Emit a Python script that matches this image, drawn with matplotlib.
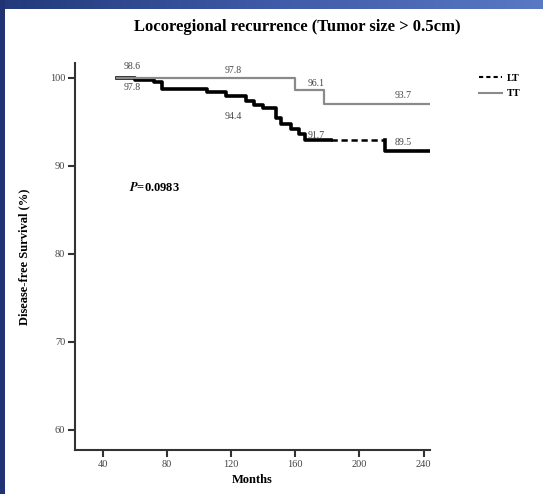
import matplotlib.pyplot as plt
import numpy as np
from matplotlib.lines import Line2D
from matplotlib.colors import LinearSegmentedColormap

plt.rcParams['font.family'] = ['Liberation Serif', 'DejaVu Serif']
plt.rcParams['mathtext.fontset'] = 'stix'

# Kaplan-Meier step data (months, disease-free survival %)
tt_months = [49, 160, 178, 244]
tt_surv = [100.0, 98.6, 97.05, 97.05]

lt_months = [49, 60, 72, 77, 105, 117, 129, 134, 140, 148, 151, 157, 162, 166, 216, 245]
lt_surv = [100.0, 99.8, 99.5, 98.8, 98.4, 97.9, 97.4, 96.9, 96.6, 95.5, 94.8, 94.2, 93.6, 92.9, 91.7, 91.7]
lt_dashed_span = (182, 216)

# rate annotations written on the curves
ann_text = ['98.6', '97.8', '97.8', '96.1', '93.7', '94.4', '91.7', '89.5']
ann_x = [58, 58, 121, 173, 227, 121, 173, 227]
ann_y = [101.25, 98.9, 100.9, 99.4, 98.0, 95.6, 93.5, 92.7]

x_ticks = [40, 80, 120, 160, 200, 240]
y_ticks = [60, 70, 80, 90, 100]

fig = plt.figure(figsize=(5.43, 4.94), dpi=100, facecolor='white')

# slide frame: gradient band on top, dark strip on the left
bg = fig.add_axes([0, 0, 1, 1], zorder=-10)
bg.set_xlim(0, 1)
bg.set_ylim(0, 1)
bg.axis('off')
grad = np.linspace(0, 1, 256).reshape(1, -1)
band = LinearSegmentedColormap.from_list('band', ['#223a7a', '#3f5aa8', '#5a78c4'])
bg.imshow(grad, cmap=band, extent=[0, 1, 1 - 9 / 494, 1], aspect='auto')
bg.add_patch(plt.Rectangle((0, 0), 5 / 543, 1, color='#1e3274', lw=0))

ax = fig.add_axes([75 / 543, 1 - 450 / 494, 355 / 543, 387 / 494])
ax.set_facecolor('none')

ax.step(tt_months, tt_surv, where='post', color='#8a8a8a', lw=1.6, zorder=3)

# LT curve: solid except for one dashed stretch
t = np.array(lt_months, dtype=float)
s = np.array(lt_surv)
a, b = lt_dashed_span
level_a = s[t <= a][-1]
t1 = np.append(t[t <= a], a)
s1 = np.append(s[t <= a], level_a)
ax.step(t1, s1, where='post', color='black', lw=2.6, zorder=2)
ax.plot([a, b], [level_a, level_a], color='black', lw=1.8, ls=(0, (2.5, 1.5)), zorder=2)
t3 = np.insert(t[t >= b], 0, b - 0.01)
s3 = np.insert(s[t >= b], 0, level_a)
ax.step(t3, s3, where='post', color='black', lw=2.6, zorder=2)

for txt, x, y in zip(ann_text, ann_x, ann_y):
    ax.text(x, y, txt, fontsize=7, color='#444444', ha='center', va='center')

ax.text(72, 87.6, r'$\mathbfit{P}$' + '=0.0983', fontsize=9, fontweight='bold',
        ha='center', va='center')

ax.set_xlim(22.5, 244)
ax.set_ylim(57.7, 101.7)
ax.set_xticks(x_ticks)
ax.set_yticks(y_ticks)
for side in ['top', 'right']:
    ax.spines[side].set_visible(False)
for side in ['left', 'bottom']:
    ax.spines[side].set_linewidth(1.5)
    ax.spines[side].set_color('#333333')
ax.tick_params(direction='out', length=5, width=1.5, color='#333333',
               labelsize=7.5, labelcolor='#444444', pad=2)

ax.set_xlabel('Months', fontsize=9, fontweight='bold', labelpad=4)
ax.set_ylabel('Disease-free Survival (%)', fontsize=9, fontweight='bold', labelpad=14)
fig.text(297 / 543, 1 - 27 / 494, 'Locoregional recurrence (Tumor size > 0.5cm)',
         fontsize=12, fontweight='bold', ha='center', va='center')

handles = [Line2D([], [], color='black', lw=1.5, ls=(0, (2, 1.5))),
           Line2D([], [], color='#8a8a8a', lw=1.5)]
leg = fig.legend(handles, ['LT', 'TT'], loc='upper left',
                 bbox_to_anchor=(470 / 543, 1 - 64 / 494), frameon=False,
                 fontsize=7.5, handlelength=2.2, handletextpad=0.4, labelspacing=0.6)
for t_ in leg.get_texts():
    t_.set_fontweight('bold')

fig.savefig('out.png', dpi=100, facecolor=fig.get_facecolor())
